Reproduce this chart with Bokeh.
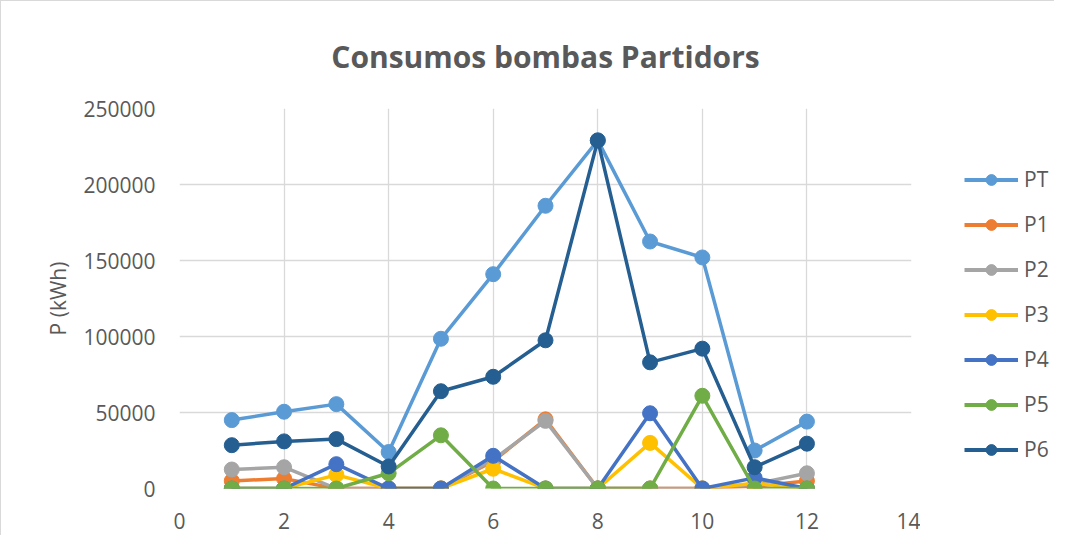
from bokeh.plotting import figure
from bokeh.layouts import row
from bokeh.models import Legend, LegendItem, FixedTicker, Range1d, BasicTickFormatter
from bokeh.embed import file_html
from bokeh.resources import INLINE

x = list(range(1, 13))
PT = [45000, 50500, 55500, 24000, 98500, 141000, 186000, 229000, 162500, 152000, 25000, 44000]
P1 = [5000, 6500, 0, 0, 0, 18000, 45500, 0, 0, 0, 1500, 5000]
P2 = [12500, 14000, 0, 0, 0, 19000, 44500, 0, 0, 0, 3000, 10000]
P3 = [0, 0, 9000, 0, 0, 13000, 0, 0, 30000, 0, 3500, 0]
P4 = [0, 0, 16000, 0, 0, 21500, 0, 0, 49500, 0, 7000, 0]
P5 = [0, 0, 0, 10000, 35000, 0, 0, 0, 0, 61000, 0, 0]
P6 = [28500, 31000, 32500, 14500, 64000, 73500, 97500, 229000, 83000, 92000, 14000, 29500]

series_names = ["PT", "P1", "P2", "P3", "P4", "P5", "P6"]
series_values = [PT, P1, P2, P3, P4, P5, P6]
colors = ["#5B9BD5", "#ED7D31", "#A5A5A5", "#FFC000", "#4472C4", "#70AD47", "#255E91"]
x_ticks = [0, 2, 4, 6, 8, 10, 12, 14]
y_ticks = [0, 50000, 100000, 150000, 200000, 250000]

FONT = "Open Sans"
TXT = "#595959"
FS = "21px"
H = 535

p = figure(width=920, height=H, output_backend="svg", toolbar_location=None,
           x_range=Range1d(0, 14), y_range=Range1d(0, 250000),
           min_border_left=178, min_border_right=10, min_border_top=107, min_border_bottom=48,
           title="Consumos bombas Partidors")
p.styles = {"border-left": "1px solid #d9d9d9", "border-top": "1px solid #d9d9d9"}

p.title.align = "center"
p.title.text_font = FONT
p.title.text_font_size = "30px"
p.title.text_font_style = "bold"
p.title.text_color = TXT
p.title.standoff = 64

p.outline_line_color = None
p.border_fill_color = "white"

p.xaxis.ticker = FixedTicker(ticks=x_ticks)
p.yaxis.ticker = FixedTicker(ticks=y_ticks)
p.yaxis.formatter = BasicTickFormatter(use_scientific=False)
for ax in (p.xaxis, p.yaxis):
    ax.axis_line_color = None
    ax.major_tick_line_color = None
    ax.minor_tick_line_color = None
    ax.major_label_text_font = FONT
    ax.major_label_text_font_size = FS
    ax.major_label_text_color = TXT
p.xaxis.major_label_standoff = 18
p.yaxis.major_label_standoff = 18
p.yaxis.axis_label = "P (kWh)"
p.yaxis.axis_label_text_font = FONT
p.yaxis.axis_label_text_font_size = FS
p.yaxis.axis_label_text_font_style = "normal"
p.yaxis.axis_label_text_color = TXT
p.yaxis.axis_label_standoff = 8

p.xgrid.grid_line_color = "#d9d9d9"
p.ygrid.grid_line_color = "#d9d9d9"
p.xgrid.grid_line_width = 1.3
p.ygrid.grid_line_width = 1.3

# legend panel: a second figure whose own renderers (outside its view) feed the legend
lg = figure(width=134, height=H, output_backend="svg", toolbar_location=None,
            x_range=Range1d(100, 101), y_range=Range1d(0, 250000),
            x_axis_type=None, y_axis_type=None,
            min_border_left=0, min_border_right=0, min_border_top=0, min_border_bottom=0)
lg.styles = {"border-top": "1px solid #d9d9d9"}
lg.grid.visible = False
lg.outline_line_color = None

items = []
for name, vals, c in zip(series_names, series_values, colors):
    p.line(x, vals, line_color=c, line_width=3.5)
    p.scatter(x, vals, size=15, fill_color=c, line_color=c)
    ln = lg.line(x, vals, line_color=c, line_width=4)
    sc = lg.scatter(x, vals, size=15, fill_color=c, line_color=c)
    items.append(LegendItem(label=name, renderers=[ln, sc]))

legend = Legend(items=items, location=(44, 25), orientation="vertical",
                glyph_width=54, glyph_height=27, spacing=17, padding=0, margin=0,
                label_text_font=FONT, label_text_font_size=FS, label_text_color=TXT,
                label_standoff=6, border_line_color=None, background_fill_alpha=0)
lg.add_layout(legend)

layout = row(p, lg)
open("out.html", "w").write(file_html(layout, INLINE))
